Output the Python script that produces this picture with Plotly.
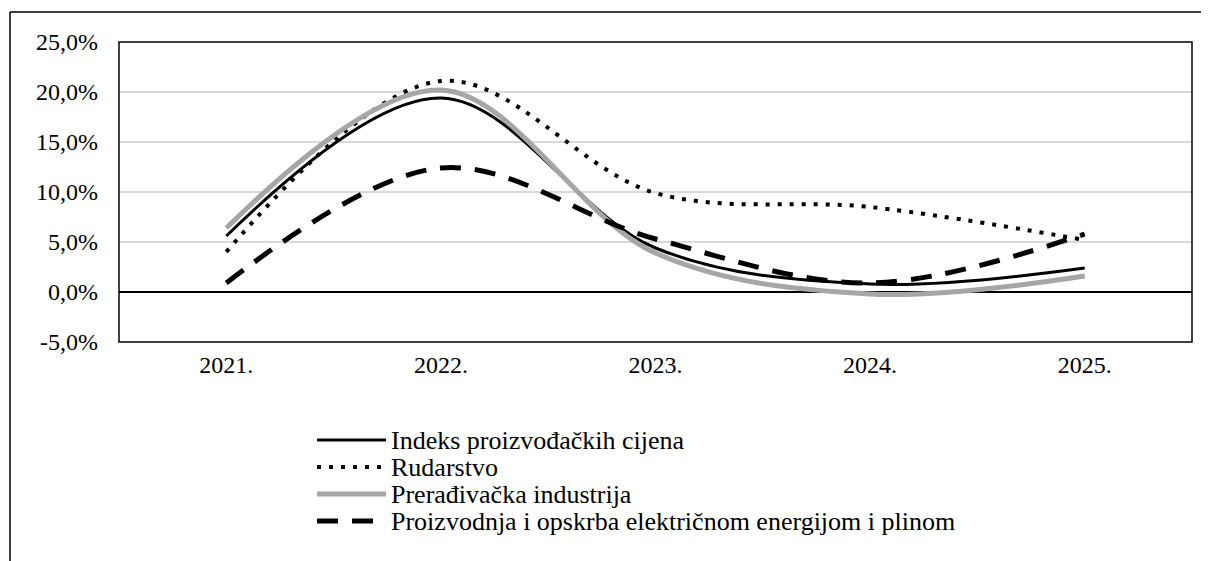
import plotly.graph_objects as go

years = ["2021.", "2022.", "2023.", "2024.", "2025."]
indeks = [5.6, 19.4, 4.4, 0.8, 2.4]
rudarstvo = [4.0, 21.1, 9.9, 8.5, 5.2]
preradjivacka = [6.4, 20.2, 3.9, -0.2, 1.6]
proizvodnja = [0.9, 12.4, 5.3, 0.9, 5.8]

names = ["Indeks proizvođačkih cijena", "Rudarstvo", "Prerađivačka industrija",
         "Proizvodnja i opskrba električnom energijom i plinom"]
y_tickvals = [-5, 0, 5, 10, 15, 20, 25]
y_ticktext = ["-5,0%", "0,0%", "5,0%", "10,0%", "15,0%", "20,0%", "25,0%"]

styles = [
    dict(color="black", width=3, dash="solid"),
    dict(color="black", width=4, dash="4px,8px"),
    dict(color="#a6a6a6", width=5, dash="solid"),
    dict(color="black", width=5, dash="21px,14px"),
]
series = [indeks, rudarstvo, preradjivacka, proizvodnja]

FONT = "Times New Roman, Liberation Serif, Tinos, DejaVu Serif, Noto Serif, serif"
OFF = 8  # page body margin
W, H = 1209 - OFF, 561 - OFF
L, R, T, B = 119, 1192, 42, 342

fig = go.Figure()
for nm, vals, st in zip(names, series, styles):
    fig.add_trace(go.Scatter(x=years, y=vals, mode="lines", name=nm,
                             line=dict(shape="spline", smoothing=1.0, **st),
                             showlegend=False, hoverinfo="skip"))

def px2paper(x, y):
    return (x - L) / (R - L), (B - y) / (B - T)

shapes = []
x0, y0 = px2paper(10, 12)
x1, y1 = px2paper(1215, 570)
shapes.append(dict(type="line", xref="paper", yref="paper", x0=x0, y0=y0, x1=x1, y1=y0,
                   line=dict(color="black", width=1.5)))
shapes.append(dict(type="line", xref="paper", yref="paper", x0=x0, y0=y0, x1=x0, y1=y1,
                   line=dict(color="black", width=1.5)))
shapes.append(dict(type="rect", xref="paper", yref="paper", x0=0, y0=0, x1=1, y1=1,
                   line=dict(color="black", width=1.5), layer="above"))

annotations = []
leg_y = [440, 467, 494, 521]
for i, (nm, st) in enumerate(zip(names, styles)):
    a0, b0 = px2paper(317, leg_y[i])
    a1, _ = px2paper(386, leg_y[i])
    shapes.append(dict(type="line", xref="paper", yref="paper", x0=a0, y0=b0, x1=a1, y1=b0,
                       line=dict(color=st["color"], width=st["width"], dash=st["dash"])))
    tx, _ = px2paper(389, leg_y[i])
    annotations.append(dict(xref="paper", yref="paper", x=tx, y=b0, text=nm, showarrow=False,
                            xanchor="left", yanchor="middle",
                            font=dict(family=FONT, size=26, color="black")))

fig.update_layout(
    width=W, height=H,
    margin=dict(l=L - OFF, r=W + OFF - R, t=T - OFF, b=H + OFF - B, pad=0),
    paper_bgcolor="white", plot_bgcolor="white",
    showlegend=False,
    shapes=shapes, annotations=annotations,
    font=dict(family=FONT, size=24, color="black"),
)
fig.update_xaxes(type="category", range=[-0.5, 4.5], showgrid=False, ticks="",
                 showline=False, zeroline=False, ticklabelstandoff=6,
                 tickfont=dict(family=FONT, size=24, color="black"))
fig.update_yaxes(range=[-5, 25], tickvals=y_tickvals, ticktext=y_ticktext,
                 showgrid=True, gridcolor="#d9d9d9", gridwidth=1.5,
                 zeroline=True, zerolinecolor="black", zerolinewidth=1.5,
                 showline=False, ticks="", ticklabelstandoff=20,
                 tickfont=dict(family=FONT, size=24, color="black"))

fig.write_html("out.html")
